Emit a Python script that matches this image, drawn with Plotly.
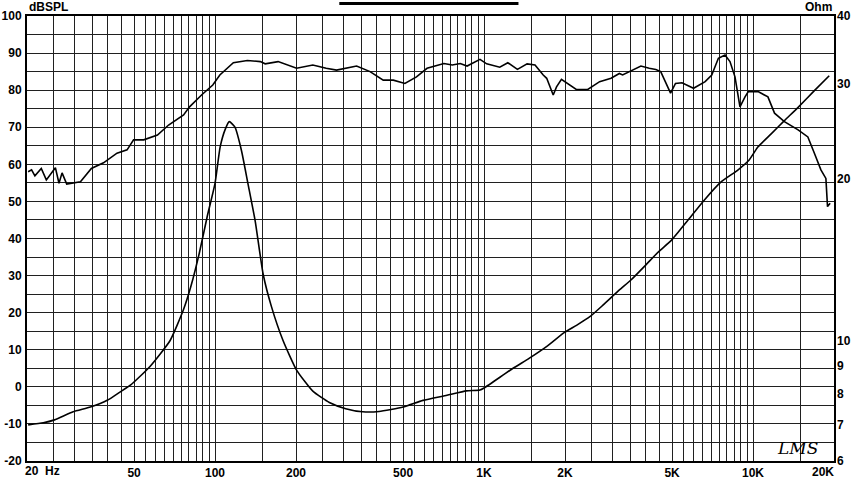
import numpy as np
import plotly.graph_objects as go

# SPL response (Hz, dB SPL)
spl_freq = [20.2, 20.8, 21.4, 22.6, 23.6, 25.5, 26.3, 27.0, 28.1, 29.6, 31.6, 34.7, 38.5, 43.2, 47.1,
            49.8, 54.3, 61.1, 67.2, 76.4, 80.4, 89.1, 98.1, 104.2, 117, 131.9, 147.4, 153.6, 171.6,
            201, 231, 259, 283, 336, 377, 422, 460, 508, 561, 614, 709, 762, 816, 865, 966, 1023,
            1144, 1226, 1331, 1446, 1547, 1660, 1710, 1808, 1860, 1940, 2203, 2430, 2690, 2966,
            3185, 3275, 3469, 3830, 4113, 4350, 4538, 4798, 4937, 5149, 5444, 6011, 6638, 7024,
            7434, 7868, 8210, 8570, 8943, 9337, 9605, 10440, 11360, 12020, 13080, 14710, 15990,
            16910, 17880, 18660, 18920, 19350]
spl_db = [58.0, 58.5, 56.9, 58.9, 55.8, 59.1, 54.9, 57.7, 54.7, 55.0, 55.3, 58.9, 60.4, 63.0, 63.9,
          66.6, 66.6, 67.9, 70.6, 73.3, 75.5, 78.7, 81.4, 84.1, 87.4, 88.0, 87.7, 87.1, 87.7,
          85.9, 86.8, 85.9, 85.4, 86.5, 85.0, 82.7, 82.7, 81.8, 83.6, 85.9, 87.2, 86.8, 87.2, 86.5,
          88.3, 87.1, 86.2, 87.4, 85.6, 87.1, 86.8, 84.1, 83.2, 78.7, 80.9, 82.9, 80.2, 80.2, 82.3,
          83.2, 84.5, 84.1, 85.0, 86.5, 85.9, 85.6, 85.0, 81.4, 79.2, 81.8, 82.0, 80.5, 82.3, 84.1,
          88.6, 89.5, 87.7, 83.6, 75.5, 78.2, 79.6, 79.6, 78.2, 73.8, 71.5, 69.3, 67.4,
          63.0, 58.5, 56.2, 48.6, 49.5]

# Impedance (Hz, Ohm)
imp_freq = [20.2, 23.0, 25.3, 29.7, 34.4, 39.9, 44.3, 48.6, 57.2, 68.1, 76.3, 81.3, 87.4, 93.5, 100,
            104.5, 109.2, 113, 118.6, 125.5, 132.5, 141, 151, 162, 179, 201, 231, 266, 306, 354,
            407, 500, 593, 728, 860, 966, 1000, 1278, 1475, 1722, 1985, 2207, 2474, 2773, 3185,
            3517, 3988, 4460, 4989, 5734, 6596, 7589, 8735, 9637, 10440, 11680, 13080, 14710,
            16910, 19200]
imp_ohm = [7.0, 7.06, 7.15, 7.4, 7.55, 7.78, 8.05, 8.3, 8.97, 10.03, 11.43, 12.62, 14.55, 17.0, 19.6,
           22.9, 24.7, 25.5, 24.9, 22.5, 19.6, 16.7, 13.3, 11.6, 10.03, 8.84, 8.08, 7.7, 7.5, 7.4,
           7.41, 7.55, 7.77, 7.94, 8.09, 8.12, 8.19, 8.9, 9.3, 9.8, 10.37, 10.7, 11.1, 11.67, 12.44,
           12.98, 13.83, 14.65, 15.4, 16.76, 18.26, 19.7, 20.7, 21.6, 22.9, 24.2, 25.6, 27.1,
           29.1, 31.0]

# Axis ticks
x_grid = (list(range(20, 100, 5)) + list(range(100, 1000, 50)) +
          list(range(1000, 10000, 500)) + [10000, 15000, 20000])
x_labels = {50: "50", 100: "100", 200: "200", 500: "500", 1000: "1K", 2000: "2K",
            5000: "5K", 10000: "10K"}
y_grid = list(range(-20, 101, 5))
ohm_ticks = [6, 7, 8, 9, 10, 20, 30, 40]

fig = go.Figure()
fig.add_trace(go.Scatter(x=spl_freq, y=spl_db, mode="lines",
                         line=dict(color="black", width=1.6), showlegend=False))
fig.add_trace(go.Scatter(x=imp_freq, y=imp_ohm, mode="lines", yaxis="y2",
                         line=dict(color="black", width=1.6, shape="spline", smoothing=0.5),
                         showlegend=False))

tickfont = dict(family="Liberation Sans", size=12, color="black", weight="bold")

fig.update_layout(
    width=854, height=480,
    margin=dict(l=27, r=20, t=16, b=19),
    paper_bgcolor="white", plot_bgcolor="white",
    xaxis=dict(type="log", range=[np.log10(20), np.log10(20000)], automargin=False,
               tickvals=x_grid, ticktext=[x_labels.get(v, "") for v in x_grid],
               showgrid=True, gridcolor="#202020", gridwidth=1,
               showline=True, linecolor="black", linewidth=2, mirror=True,
               ticks="", tickfont=tickfont, zeroline=False, fixedrange=True),
    yaxis=dict(range=[-20, 100], tickvals=y_grid, automargin=False,
               ticktext=[str(v) if v % 10 == 0 else "" for v in y_grid],
               showgrid=True, gridcolor="#202020", gridwidth=1,
               showline=True, linecolor="black", linewidth=2, mirror=True,
               ticks="", tickfont=tickfont, zeroline=False, ticklabelstandoff=1),
    yaxis2=dict(type="log", range=[np.log10(6), np.log10(40)], overlaying="y", side="right",
                tickvals=ohm_ticks, ticktext=[str(v) for v in ohm_ticks], automargin=False,
                showgrid=False, showline=False, ticks="", tickfont=tickfont,
                zeroline=False, ticklabelstandoff=2),
    annotations=[
        dict(text="dBSPL", xref="paper", yref="paper", x=0, y=1, xanchor="left", yanchor="bottom",
             xshift=0, yshift=0, showarrow=False, font=tickfont),
        dict(text="Ohm", xref="paper", yref="paper", x=1, y=1, xanchor="right", yanchor="bottom",
             xshift=0, yshift=0, showarrow=False, font=tickfont),
        dict(text="20  Hz", xref="paper", yref="paper", x=0, y=0, xanchor="left", yanchor="top",
             xshift=-4, yshift=-1, showarrow=False, font=tickfont),
        dict(text="20K", xref="paper", yref="paper", x=1, y=0, xanchor="right", yanchor="top",
             xshift=2, yshift=-2, showarrow=False, font=tickfont),
        dict(text="<i>LMS</i>", xref="paper", yref="paper", x=0.955, y=0.03, xanchor="center",
             yanchor="middle", showarrow=False,
             font=dict(family="DejaVu Serif", size=17, color="black")),
    ],
    shapes=[dict(type="line", xref="paper", yref="paper", x0=0.387, x1=0.609,
                 y0=1.028, y1=1.028, line=dict(color="black", width=3))],
)

fig.write_html("out.html", config={"displayModeBar": False},
               post_script="document.body.style.margin='0';document.body.style.overflow='hidden';")
